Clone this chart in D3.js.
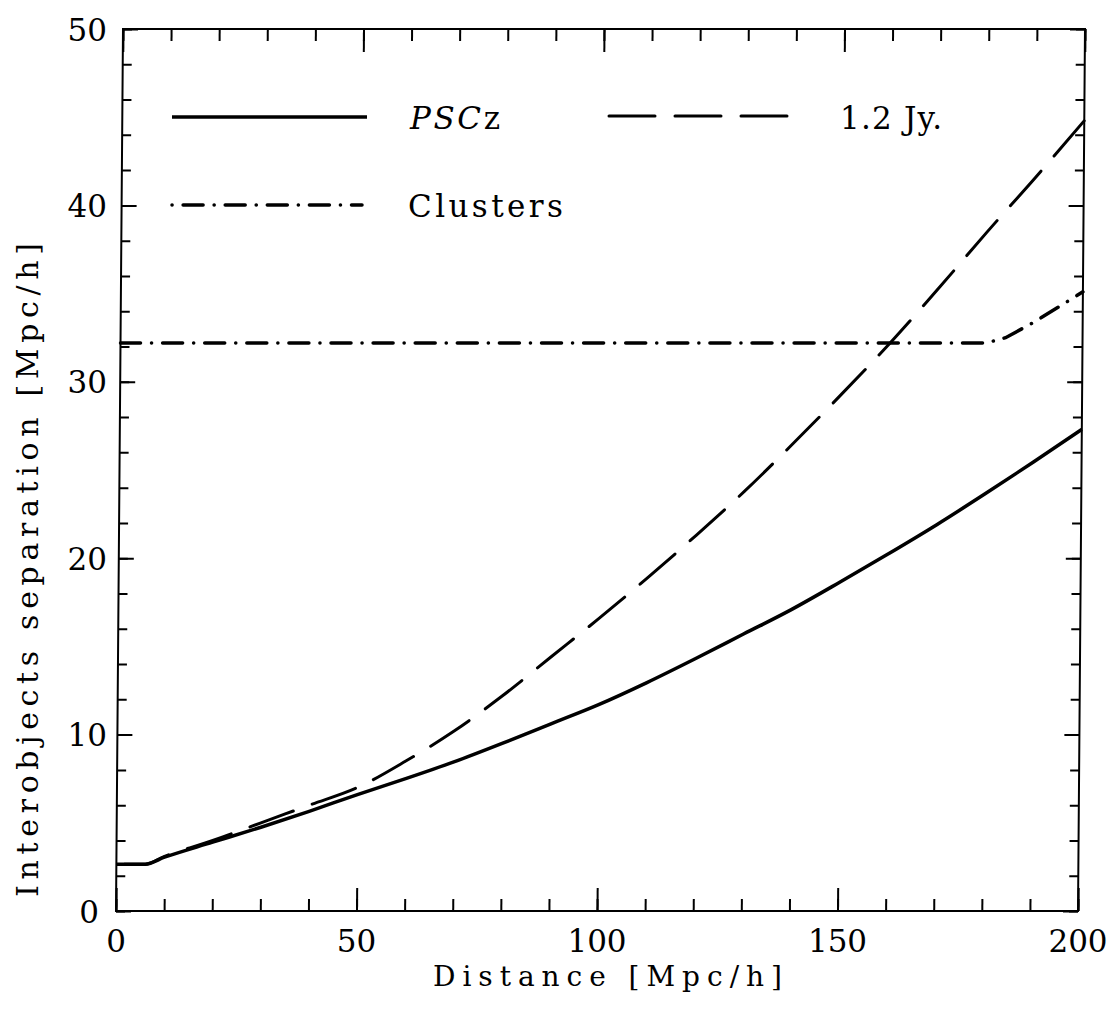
<!DOCTYPE html>
<html>
<head>
<meta charset="utf-8">
<script src="https://cdn.jsdelivr.net/npm/d3@7"></script>
<style>
html,body{margin:0;padding:0;background:#fff;}
svg{display:block;}
text{font-family:"DejaVu Serif","Liberation Serif",serif;fill:#000;}
</style>
</head>
<body>
<svg id="chart" width="1112" height="1012"></svg>
<script>
// ---- data ----
const distance = [0, 6, 10, 20, 30, 40, 50, 60, 70, 80, 90, 100, 110, 120, 130, 140, 150, 160, 170, 180, 190, 200];
const psczSep  = [2.65, 2.65, 3.05, 3.9, 4.75, 5.65, 6.6, 7.5, 8.45, 9.5, 10.6, 11.7, 12.95, 14.3, 15.7, 17.1, 18.65, 20.25, 21.9, 23.65, 25.45, 27.3];
const jy12Sep  = [2.65, 2.65, 3.1, 4.0, 5.0, 6.0, 7.0, 8.5, 10.2, 12.2, 14.4, 16.6, 18.9, 21.3, 23.8, 26.5, 29.3, 32.2, 35.3, 38.5, 41.6, 44.8];
const clusterDist = [0, 100, 180, 184, 190, 200];
const clusterSep  = [32.2, 32.2, 32.2, 32.5, 33.4, 35.1];
const seriesNames = ["PSCz", "1.2 Jy.", "Clusters"];
const xMajor = [0, 50, 100, 150, 200];
const xMinor = d3.range(0, 201, 10);
const yMajor = [0, 10, 20, 30, 40, 50];
const yMinor = d3.range(0, 51, 2);
const xTitle = "Distance [Mpc/h]";
const yTitle = "Interobjects separation [Mpc/h]";

// ---- layout ----
const L = 116, R = 1078, T = 29, B = 911;
const x = d3.scaleLinear().domain([0, 200]).range([L, R]);
const y = d3.scaleLinear().domain([0, 50]).range([B, T]);
const shear = Math.atan(7 / 882) * 180 / Math.PI;

const svg = d3.select("#chart");
const plot = svg.append("g")
  .attr("transform", `translate(0,${B}) skewX(${-shear}) translate(0,${-B})`);

// frame
plot.append("rect").attr("x", L).attr("y", T).attr("width", R - L).attr("height", B - T)
  .attr("fill", "none").attr("stroke", "#000").attr("stroke-width", 2);

function ticks(axisGen, transform, values, size) {
  const g = plot.append("g").attr("transform", transform)
    .call(axisGen.tickValues(values).tickSize(size).tickFormat(""));
  g.select(".domain").remove();
  g.selectAll("line").attr("stroke", "#000").attr("stroke-width", 2);
}
ticks(d3.axisBottom(x), `translate(0,${B})`, xMinor, -12);
ticks(d3.axisBottom(x), `translate(0,${B})`, xMajor, -23);
ticks(d3.axisTop(x), `translate(0,${T})`, xMinor, -12);
ticks(d3.axisTop(x), `translate(0,${T})`, xMajor, -23);
ticks(d3.axisLeft(y), `translate(${L},0)`, yMinor, -9);
ticks(d3.axisLeft(y), `translate(${L},0)`, yMajor, -15);
ticks(d3.axisRight(y), `translate(${R},0)`, yMinor, -9);
ticks(d3.axisRight(y), `translate(${R},0)`, yMajor, -15);

// curves
const line = d3.line().curve(d3.curveMonotoneX).x(d => x(d[0])).y(d => y(d[1]));
const lineLin = d3.line().x(d => x(d[0])).y(d => y(d[1]));
plot.append("path").datum(distance.map((d, i) => [d, psczSep[i]]))
  .attr("d", line).attr("fill", "none").attr("stroke", "#000")
  .attr("stroke-width", 3.5).attr("stroke-linejoin", "round");
plot.append("path").datum(distance.map((d, i) => [d, jy12Sep[i]]))
  .attr("d", line).attr("fill", "none").attr("stroke", "#000")
  .attr("stroke-width", 3).attr("stroke-linecap", "round")
  .attr("stroke-dasharray", "46 20").attr("stroke-dashoffset", -8);
plot.append("path").datum(clusterDist.map((d, i) => [d, clusterSep[i]]))
  .attr("d", lineLin).attr("fill", "none").attr("stroke", "#000")
  .attr("stroke-width", 3.5).attr("stroke-linecap", "round")
  .attr("stroke-dasharray", "20 11 0.1 11");

// tick labels
svg.append("g").selectAll("text").data(xMajor).join("text")
  .attr("x", d => x(d)).attr("y", 952).attr("text-anchor", "middle")
  .attr("font-size", 31).text(d => d);
svg.append("g").selectAll("text").data(yMajor).join("text")
  .attr("x", d => d === 0 ? 99 : 107).attr("y", d => y(d) + 11.5).attr("text-anchor", "end")
  .attr("font-size", 31).text(d => d);

// axis titles
svg.append("text").attr("x", 433).attr("y", 986).attr("font-size", 28)
  .attr("textLength", 349).attr("lengthAdjust", "spacing").text(xTitle);
svg.append("text").attr("transform", "translate(38,897) rotate(-90)")
  .attr("font-size", 30).attr("textLength", 654).attr("lengthAdjust", "spacing").text(yTitle);

// legend
const lg = svg.append("g");
lg.append("line").attr("x1", 172).attr("x2", 367).attr("y1", 117).attr("y2", 117)
  .attr("stroke", "#000").attr("stroke-width", 3.5);
lg.append("line").attr("x1", 609).attr("x2", 788).attr("y1", 116).attr("y2", 116)
  .attr("stroke", "#000").attr("stroke-width", 3).attr("stroke-linecap", "round")
  .attr("stroke-dasharray", "46 20");
lg.append("line").attr("x1", 172).attr("x2", 362).attr("y1", 205).attr("y2", 205)
  .attr("stroke", "#000").attr("stroke-width", 3.5).attr("stroke-linecap", "round")
  .attr("stroke-dasharray", "0.1 11 20 11");

const t1 = lg.append("text").attr("x", 410).attr("y", 129).attr("font-size", 31)
  .attr("textLength", 90).attr("lengthAdjust", "spacing");
t1.append("tspan").attr("font-style", "italic").text(seriesNames[0].slice(0, 3));
t1.append("tspan").text(seriesNames[0].slice(3));
lg.append("text").attr("x", 840).attr("y", 129).attr("font-size", 31)
  .attr("textLength", 102).attr("lengthAdjust", "spacing").text(seriesNames[1]);
lg.append("text").attr("x", 408).attr("y", 217).attr("font-size", 31)
  .attr("textLength", 155).attr("lengthAdjust", "spacing").text(seriesNames[2]);
</script>
</body>
</html>
